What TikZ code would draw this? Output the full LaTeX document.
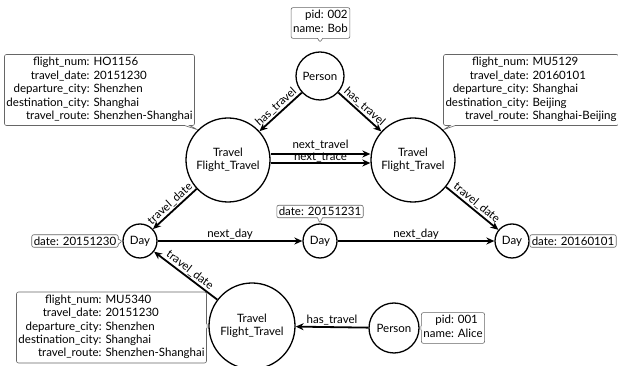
\documentclass[tikz,border=0pt]{standalone}
\usepackage{fontspec}
\setmainfont{Lato}
\usetikzlibrary{arrows.meta,calc,shapes.callouts}
\tikzset{
	ent/.style={circle, draw, line width=1.3pt, inner sep=0pt, align=center},
	rel/.style={line width=1.8pt, -{Stealth[length=8pt,width=7pt]}},
	info/.style={rectangle callout, draw=black!60, fill=white, rounded corners=2pt, inner sep=2pt, line width=0.6pt, callout pointer width=5pt},
	lbl/.style={inner sep=1pt}
}
\newcommand{\props}[1]{\begin{tabular}{@{}r@{ }l@{}}#1\end{tabular}}

\begin{document}
\begin{tikzpicture}[x=1pt, y=1pt, font=\fontsize{11.5}{13.4}\selectfont]
			%%%%% START %%%%%
			\useasboundingbox (0,0) rectangle (618,366);
			
			\node[ent, minimum size=48pt] (bob) at (320,290) {Person};
			\node[ent, minimum size=84pt] (travl) at (228,206) {Travel\\Flight\_Travel};
			\node[ent, minimum size=84pt] (travr) at (413,206) {Travel\\Flight\_Travel};
			\node[ent, minimum size=34pt] (dayl) at (140,125) {Day};
			\node[ent, minimum size=34pt] (daym) at (320,125) {Day};
			\node[ent, minimum size=34pt] (dayr) at (512,125) {Day};
			\node[ent, minimum size=86pt] (travb) at (252,40) {Travel\\Flight\_Travel};
			\node[ent, minimum size=50pt] (alice) at (394,38) {Person};
			
			% properties
			\node[info, callout absolute pointer={($(bob.north)+(0,9)$)}] (bobinfo) at (320.5,343) {\props{pid: & 002\\ name: & Bob}};
			\node[info, callout absolute pointer={(travl.135)}] (infol) at (99.5,276) {\props{flight\_num: & HO1156\\ travel\_date: & 20151230\\ departure\_city: & Shenzhen\\ destination\_city: & Shanghai\\ travel\_route: & Shenzhen-Shanghai}};
			\node[info, callout absolute pointer={(travr.45)}] (infor) at (531,276) {\props{flight\_num: & MU5129\\ travel\_date: & 20160101\\ departure\_city: & Shanghai\\ destination\_city: & Beijing\\ travel\_route: & Shanghai-Beijing}};
			\node[info, callout absolute pointer={(dayl.west)}] (datel) at (75,125) {date: 20151230};
			\node[info, callout absolute pointer={(daym.north)}] (datem) at (320,154.5) {date: 20151231};
			\node[info, callout absolute pointer={(dayr.east)}] (dater) at (573,125) {date: 20160101};
			\node[info, callout absolute pointer={(travb.west)}] (infob) at (111.5,38.5) {\props{flight\_num: & MU5340\\ travel\_date: & 20151230\\ departure\_city: & Shenzhen\\ destination\_city: & Shanghai\\ travel\_route: & Shenzhen-Shanghai}};
			\node[info, callout absolute pointer={(alice.east)}] (aliceinfo) at (453,38) {\props{pid: & 001\\ name: & Alice}};
			
			% relations
			\draw[rel] (bob) -- node[lbl, sloped, above] {has\_travel} (travl);
			\draw[rel] (bob) -- node[lbl, sloped, above] {has\_travel} (travr);
			\draw[rel] ([yshift=6pt]travl.east) -- node[lbl, above=1.5pt] {next\_travel} ([yshift=6pt]travr.west);
			\draw[rel] ([yshift=-3pt]travl.east) -- node[lbl, above, inner sep=0pt] {next\_trace} ([yshift=-3pt]travr.west);
			\draw[rel] (travl) -- node[lbl, sloped, above] {travel\_date} (dayl);
			\draw[rel] (travr) -- node[lbl, sloped, above] {travel\_date} (dayr);
			\draw[rel] (dayl) -- node[lbl, above] {next\_day} (daym);
			\draw[rel] (daym) -- node[lbl, above] {next\_day} (dayr);
			\draw[rel] (travb) -- node[lbl, sloped, above] {travel\_date} (dayl);
			\draw[rel] (alice) -- node[lbl, above] {has\_travel} (travb);
			
			%%%%% END %%%%%
\end{tikzpicture}
\end{document}
